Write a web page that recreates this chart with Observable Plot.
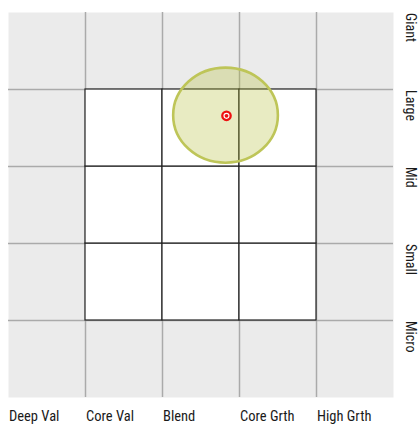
<!DOCTYPE html>
<html>
<head>
<meta charset="utf-8">
<script src="https://cdn.jsdelivr.net/npm/d3@7"></script>
<script src="https://cdn.jsdelivr.net/npm/@observablehq/plot@0.6"></script>
<style>
  html, body { margin: 0; padding: 0; background: #fff; }
  #chart svg { display: block; }
</style>
</head>
<body>
<div id="chart"></div>
<script>
// Style (x) categories, left to right; size (y) categories, top to bottom
const styleLabels = ["Deep Val", "Core Val", "Blend", "Core Grth", "High Grth"];
const sizeLabels = ["Giant", "Large", "Mid", "Small", "Micro"];
// Inner 3x3 style box cell indices
const boxCols = [1, 2, 3];
const boxRows = [1, 2, 3];
// Ownership zone (center and radii in grid units) and centroid
const zoneX = [2.825];
const zoneY = [3.66];
const zoneRX = [0.68];
const zoneRY = [0.617];
const centroidX = [2.831];
const centroidY = [3.658];
const gridLines = [1, 2, 3, 4];

const cells = [];
for (const c of boxCols) for (const r of boxRows) cells.push({c, r});
const zone = zoneX.map((x, i) => ({x, y: zoneY[i], rx: zoneRX[i], ry: zoneRY[i]}));
const centroid = centroidX.map((x, i) => ({x, y: centroidY[i]}));
const font = "'Liberation Sans Narrow', 'Roboto Condensed', 'Arial Narrow', 'Liberation Sans', sans-serif";

const chart = Plot.plot({
  width: 420,
  height: 424,
  marginLeft: 8,
  marginRight: 27,
  marginTop: 12,
  marginBottom: 27,
  x: {domain: [0, 5], axis: null},
  y: {domain: [0, 5], axis: null},
  style: {fontFamily: font, background: "#fff", overflow: "visible"},
  marks: [
    Plot.frame({fill: "#ebebeb", stroke: null}),
    Plot.ruleX(gridLines, {stroke: "#aaaaaa", strokeWidth: 1.5}),
    Plot.ruleY(gridLines, {stroke: "#aaaaaa", strokeWidth: 1.5}),
    Plot.rect(cells, {x1: d => d.c, x2: d => d.c + 1, y1: d => d.r, y2: d => d.r + 1, fill: "#fff", stroke: "#222", strokeWidth: 1.2, inset: 0}),
    Plot.rect(zone, {x1: d => d.x - d.rx, x2: d => d.x + d.rx, y1: d => d.y - d.ry, y2: d => d.y + d.ry, rx: 1000, ry: 1000, inset: 0,
      fill: "rgb(178,188,52)", fillOpacity: 0.3, stroke: "rgb(190,197,88)", strokeWidth: 2.6}),
    Plot.dot(centroid, {x: "x", y: "y", r: 4.2, fill: "#fff", stroke: "#ee1111", strokeWidth: 2.3}),
    Plot.dot(centroid, {x: "x", y: "y", r: 1.9, fill: "#ee1111", stroke: null}),
    Plot.text(styleLabels, {x: (d, i) => i, y: 0, text: d => d, textAnchor: "start", dx: 0.5, dy: 18.5, fontSize: 14.5, fill: "#1a1a1a"}),
    Plot.text(sizeLabels, {x: 5, y: (d, i) => 5 - i, text: d => d, rotate: 90, textAnchor: "start", dx: 17, dy: 0.5, fontSize: 14, fill: "#1a1a1a"})
  ]
});
document.getElementById("chart").appendChild(chart);
</script>
</body>
</html>
